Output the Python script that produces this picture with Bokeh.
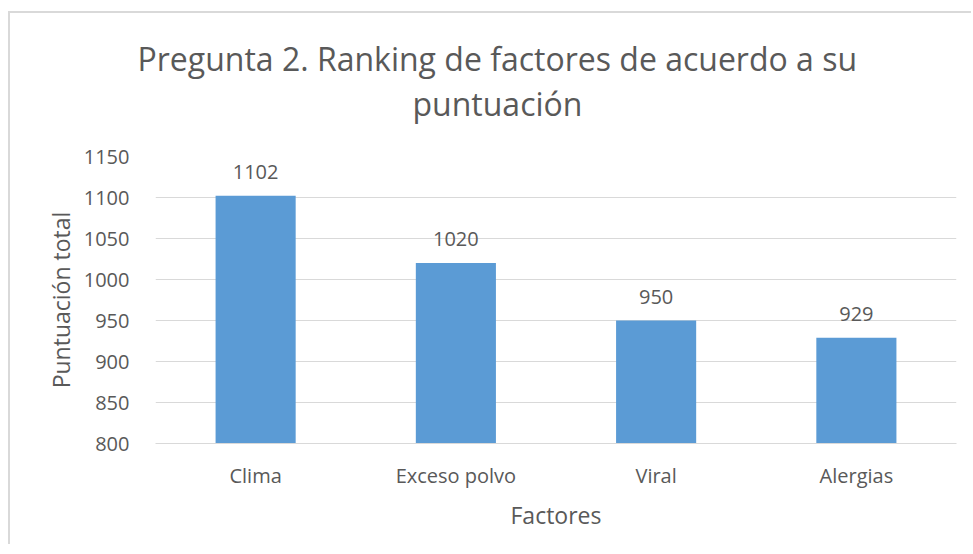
from bokeh.plotting import figure
from bokeh.models import ColumnDataSource, LabelSet, Range1d, FixedTicker, Title
from bokeh.core.properties import value
from bokeh.embed import file_html
from bokeh.resources import INLINE

categories = ["Clima", "Exceso polvo", "Viral", "Alergias"]
values = [1102, 1020, 950, 929]
y_ticks = [800, 850, 900, 950, 1000, 1050, 1100, 1150]
title_lines = ["Pregunta 2. Ranking de factores de acuerdo a su", "puntuación"]

FONT = "Open Sans"
TXT = "#595959"

src = ColumnDataSource(dict(cat=categories, val=values, lab=[str(v) for v in values]))

p = figure(x_range=categories, y_range=Range1d(800, 1150), width=963, height=533,
           output_backend="svg", toolbar_location=None,
           min_border_left=145, min_border_right=17, min_border_top=143, min_border_bottom=103)
p.margin = (11, 0, 0, 8)
p.styles = {"border-left": "2px solid #D9D9D9", "border-top": "2px solid #D9D9D9"}
p.border_fill_color = "white"
p.outline_line_color = None

p.vbar(x="cat", top="val", bottom=800, width=0.4, source=src, color="#5B9BD5", line_color=None)

labels = LabelSet(x="cat", y="val", text="lab", source=src, y_offset=17, text_align="center",
                  text_baseline="bottom", text_font_size="20px", text_color=TXT,
                  text_font=value(FONT))
p.add_layout(labels)

p.yaxis.ticker = FixedTicker(ticks=y_ticks)
p.ygrid.grid_line_color = "#D9D9D9"
p.xgrid.grid_line_color = None
for ax in (p.xaxis, p.yaxis):
    ax.axis_line_color = None
    ax.major_tick_line_color = None
    ax.minor_tick_line_color = None
    ax.major_label_text_font = FONT
    ax.major_label_text_font_size = "20px"
    ax.major_label_text_color = TXT
    ax.axis_label_text_font = FONT
    ax.axis_label_text_font_size = "23px"
    ax.axis_label_text_color = TXT
    ax.axis_label_text_font_style = "normal"
p.xaxis.axis_line_color = "#D9D9D9"
p.xaxis.major_label_standoff = 12
p.yaxis.major_label_standoff = 20
p.xaxis.axis_label = "Factores"
p.yaxis.axis_label = "Puntuación total"
p.xaxis.axis_label_standoff = 7
p.yaxis.axis_label_standoff = 4

# spacer panel between the frame and the two title lines
p.add_layout(Title(text=" ", text_font_size="1px", standoff=29), "above")

offsets = [-18, 257]
for t, off in reversed(list(zip(title_lines, offsets))):
    p.add_layout(Title(text=t, align="left", offset=off, text_font=FONT,
                       text_font_size="32px", text_color=TXT, text_font_style="normal",
                       standoff=0, vertical_align="bottom"), "above")

open("out.html", "w").write(file_html(p, INLINE))
